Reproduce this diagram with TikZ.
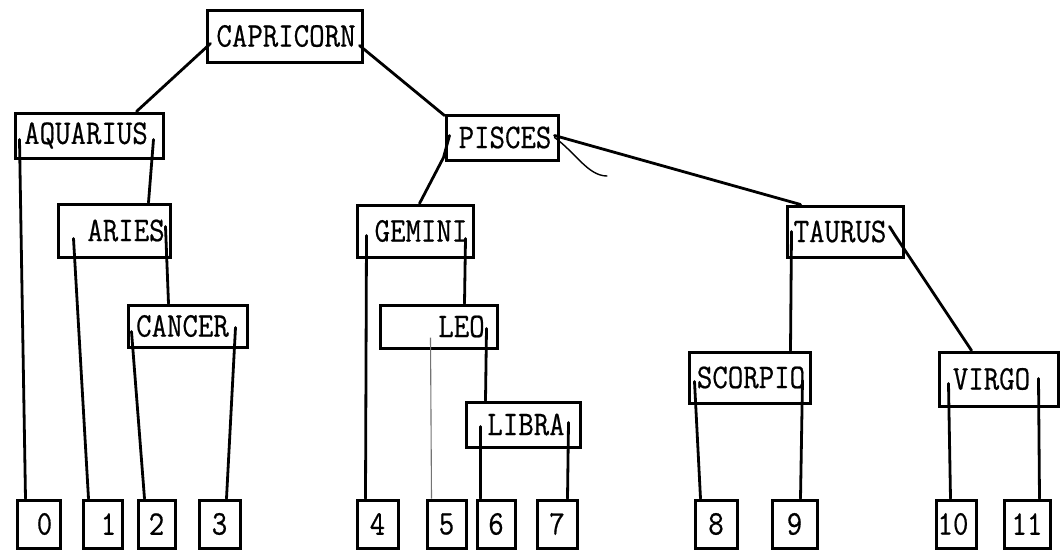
\documentclass[tikz,border=0pt]{standalone}
\usepackage{fontspec}
\newfontfamily\twfont[FakeBold=0.6]{Latin Modern Mono}
\newcommand{\tw}[1]{\scalebox{1}[1.15]{#1}}
\usetikzlibrary{calc}
\tikzset{
  box/.style={draw, line width=3pt, inner sep=0pt, font=\twfont\fontsize{30}{32}\selectfont},
  leaf/.style={box, minimum height=48pt},
  link/.style={line width=2.8pt, line cap=round, line join=round},
  faint/.style={line width=1.1pt, draw=black!55},
}
\begin{document}
\begin{tikzpicture}[x=1pt,y=-1pt]
\useasboundingbox (0,0) rectangle (1063,554);
% inner boxes
\node[box, minimum width=155pt, minimum height=52pt] (cap) at (284.5,36) {\hspace*{3pt}\tw{CAPRICORN}};
\node[box, minimum width=148pt, minimum height=45pt] (aqu) at (89,135.5) {\tw{AQUARIUS}\hspace*{6pt}};
\node[box, minimum width=112pt, minimum height=45pt] (pis) at (502,137.5) {\hspace*{6pt}\tw{PISCES}};
\node[box, minimum width=112pt, minimum height=53pt] (ari) at (114,230.5) {\hspace*{24pt}\tw{ARIES}};
\node[box, minimum width=116pt, minimum height=52pt] (gem) at (415,231) {\hspace*{12pt}\tw{GEMINI}};
\node[box, minimum width=116pt, minimum height=51pt] (tau) at (845,231.5) {\tw{TAURUS}\hspace*{10pt}};
\node[box, minimum width=119pt, minimum height=42pt] (can) at (187.5,326) {\tw{CANCER}\hspace*{10pt}};
\node[box, minimum width=117pt, minimum height=43pt] (leo) at (438.5,326.5) {\hspace*{46pt}\tw{LEO}};
\node[box, minimum width=114pt, minimum height=45pt] (lib) at (523,424.5) {\hspace*{6pt}\tw{LIBRA}};
\node[box, minimum width=121pt, minimum height=51pt] (sco) at (749.5,377.5) {\hspace*{3pt}\tw{SCORPIO}};
\node[box, minimum width=119pt, minimum height=54pt] (vir) at (998.5,379) {\tw{VIRGO}\hspace*{14pt}};
% leaves
\node[leaf, minimum width=43pt] (l0) at (38.5,524) {\hspace*{12pt}\tw{0}};
\node[leaf, minimum width=39pt] (l1) at (102.5,524) {\hspace*{12pt}\tw{1}};
\node[leaf, minimum width=37pt] (l2) at (156.5,524) {\tw{2}};
\node[leaf, minimum width=41pt] (l3) at (219.5,524) {\tw{3}};
\node[leaf, minimum width=41pt] (l4) at (377.5,524) {\tw{4}};
\node[leaf, minimum width=39pt] (l5) at (446.5,524) {\tw{5}};
\node[leaf, minimum width=38pt] (l6) at (496,524) {\tw{6}};
\node[leaf, minimum width=40pt] (l7) at (557,524) {\tw{7}};
\node[leaf, minimum width=42pt] (l8) at (716,524) {\tw{8}};
\node[leaf, minimum width=45pt] (l9) at (794.5,524) {\tw{9}};
\node[leaf, minimum width=40pt] (l10) at (956,524) {\tw{10}\hspace*{6pt}};
\node[leaf, minimum width=46pt] (l11) at (1027,524) {\tw{11}};
% connectors
\draw[link] ($(cap.north west)+(5,35)$) -- ($(aqu.north west)+(123,0)$);
\draw[link] ($(cap.north west)+(154,37)$) -- ($(pis.north west)+(0,2)$);
\draw[link] ($(aqu.north west)+(6,28)$) -- ($(l0.north west)+(10,0)$);
\draw[link] ($(aqu.north west)+(140,28)$) -- ($(ari.north west)+(92,0)$);
\draw[link] ($(ari.north west)+(17,36)$) -- ($(l1.north west)+(7,0)$);
\draw[link] ($(ari.north west)+(109,24)$) -- ($(can.north west)+(42,0)$);
\draw[link] ($(can.north west)+(5,28)$) -- ($(l2.north west)+(8,0)$);
\draw[link] ($(can.north west)+(109,24)$) -- ($(l3.north west)+(29,0)$);
\draw[link] ($(pis.north west)+(5,22)$) -- ($(pis.north west)+(-1,44)$) -- ($(gem.north west)+(64,0)$);
\draw[link] ($(pis.north west)+(110,22)$) -- ($(tau.north west)+(15,0)$);
\coordinate (curlend) at (607,176);
\draw[line width=1.4pt, line cap=round] ($(pis.north west)+(110,24)$) .. controls (575,152) and (588,176) .. (curlend);
\draw[link] ($(gem.north west)+(11,32)$) -- ($(l4.north west)+(10,0)$);
\draw[link] ($(gem.north west)+(110,35)$) -- ($(leo.north west)+(86,0)$);
\draw[faint] ($(leo.north west)+(52,34)$) -- ($(l5.north west)+(6,0)$);
\draw[link] ($(leo.north west)+(108,25)$) -- ($(lib.north west)+(21,0)$);
\draw[link] ($(lib.north west)+(16,26)$) -- ($(l6.north west)+(5,0)$);
\draw[link] ($(lib.north west)+(104,22)$) -- ($(l7.north west)+(32,0)$);
\draw[link] ($(tau.north west)+(6,27)$) -- ($(sco.north west)+(103,0)$);
\draw[link] ($(tau.north west)+(104,22)$) -- ($(tau.north west)+(109,30)$) -- ($(vir.north west)+(34,0)$);
\draw[link] ($(sco.north west)+(7,31)$) -- ($(l8.north west)+(7,0)$);
\draw[link] ($(sco.north west)+(115,30)$) -- ($(l9.north west)+(30,0)$);
\draw[link] ($(vir.north west)+(11,33)$) -- ($(l10.north west)+(16,0)$);
\draw[link] ($(vir.north west)+(101,28)$) -- ($(l11.north west)+(37,0)$);
\end{tikzpicture}
\end{document}
